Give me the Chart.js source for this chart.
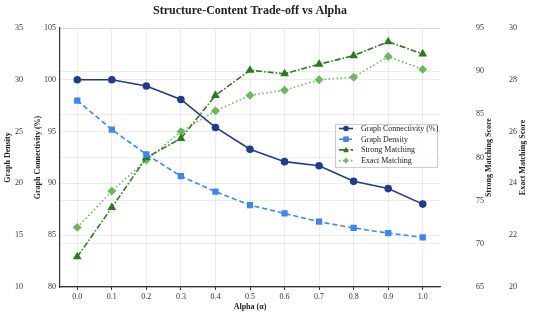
<!DOCTYPE html>
<html>
<head>
<meta charset="utf-8">
<script src="https://cdn.jsdelivr.net/npm/chart.js@4.4.0/dist/chart.umd.min.js"></script>
<style>
  html, body { margin: 0; padding: 0; background: #fff; }
  canvas { display: block; }
</style>
</head>
<body>
<canvas id="chart" width="533" height="317"></canvas>
<script>
const alphaLabels = ['0.0', '0.1', '0.2', '0.3', '0.4', '0.5', '0.6', '0.7', '0.8', '0.9', '1.0'];
const connectivity = [100, 100, 99.4, 98.1, 95.4, 93.3, 92.1, 91.7, 90.2, 89.5, 88.0];
const density = [28.0, 25.2, 22.8, 20.7, 19.2, 17.9, 17.1, 16.3, 15.7, 15.2, 14.8];
const strongMatching = [68.5, 74.2, 80.0, 82.2, 87.2, 90.1, 89.7, 90.8, 91.8, 93.4, 92.0];
const exactMatching = [22.3, 23.7, 24.9, 26.0, 26.8, 27.4, 27.6, 28.0, 28.1, 28.9, 28.4];

const SERIF = '"Liberation Serif", "DejaVu Serif", serif';
const tickFont = { family: SERIF, size: 8 };
const gridColor = 'rgba(0,0,0,0.07)';
const clear = 'rgba(0,0,0,0)';

function drawMarker(ctx, style, x, y, r) {
  ctx.beginPath();
  if (style === 'circle') {
    ctx.arc(x, y, r, 0, Math.PI * 2);
  } else if (style === 'rect') {
    ctx.rect(x - r, y - r, r * 2, r * 2);
  } else if (style === 'triangle') {
    ctx.moveTo(x, y - r * 1.1);
    ctx.lineTo(x + r, y + r * 0.8);
    ctx.lineTo(x - r, y + r * 0.8);
    ctx.closePath();
  } else {
    ctx.moveTo(x, y - r * 1.2);
    ctx.lineTo(x + r * 0.8, y);
    ctx.lineTo(x, y + r * 1.2);
    ctx.lineTo(x - r * 0.8, y);
    ctx.closePath();
  }
  ctx.fill();
}

const extras = {
  id: 'extras',
  afterDraw(chart) {
    const ctx = chart.ctx;
    const a = chart.chartArea;
    const s = chart.scales;
    ctx.save();

    // title
    ctx.fillStyle = '#222';
    ctx.textAlign = 'center';
    ctx.textBaseline = 'middle';
    ctx.font = 'bold 12px ' + SERIF;
    ctx.fillText('Structure-Content Trade-off vs Alpha', (a.left + a.right) / 2, 11);

    // y axis titles, all reading bottom to top
    ctx.font = 'bold 8px ' + SERIF;
    const cy = (a.top + a.bottom) / 2;
    const yTitles = [
      ['Graph Density', s.yDen.left + 8],
      ['Graph Connectivity (%)', s.yConn.left + 10],
      ['Strong Matching Score', s.yStrong.left + 49],
      ['Exact Matching Score', s.yExact.left + 28]
    ];
    yTitles.forEach(([text, x]) => {
      ctx.save();
      ctx.translate(x, cy);
      ctx.rotate(-Math.PI / 2);
      ctx.fillText(text, 0, 0);
      ctx.restore();
    });

    // legend
    const bx = a.right - 105, by = 124, bw = 102, bh = 43;
    ctx.fillStyle = 'rgba(255,255,255,0.85)';
    ctx.fillRect(bx, by, bw, bh);
    ctx.strokeStyle = '#cccccc';
    ctx.lineWidth = 1;
    ctx.strokeRect(bx + 0.5, by + 0.5, bw, bh);
    ctx.textAlign = 'left';
    ctx.font = '8px ' + SERIF;
    chart.data.datasets.forEach((ds, i) => {
      const ry = by + 4.5 + i * 10.7;
      ctx.strokeStyle = ds.borderColor;
      ctx.lineWidth = ds.borderWidth;
      ctx.setLineDash(ds.borderDash || []);
      ctx.beginPath();
      ctx.moveTo(bx + 4, ry);
      ctx.lineTo(bx + 18, ry);
      ctx.stroke();
      ctx.setLineDash([]);
      ctx.fillStyle = ds.borderColor;
      drawMarker(ctx, ds.pointStyle, bx + 11, ry, 2.8);
      ctx.fillStyle = '#222';
      ctx.fillText(ds.label, bx + 26, ry + 0.5);
    });
    ctx.restore();
  }
};

function fixWidth(w) {
  return scale => { scale.width = w; };
}

new Chart(document.getElementById('chart'), {
  type: 'line',
  data: {
    labels: alphaLabels,
    datasets: [
      {
        label: 'Graph Connectivity (%)',
        data: connectivity,
        yAxisID: 'yConn',
        borderColor: '#1f3c8e',
        backgroundColor: '#1f3c8e',
        borderWidth: 1.6,
        pointStyle: 'circle',
        pointRadius: 3
      },
      {
        label: 'Graph Density',
        data: density,
        yAxisID: 'yDen',
        borderColor: '#3e86ef',
        backgroundColor: '#3e86ef',
        borderWidth: 1.6,
        borderDash: [5, 3],
        pointStyle: 'rect',
        pointRadius: 3.3
      },
      {
        label: 'Strong Matching',
        data: strongMatching,
        yAxisID: 'yStrong',
        borderColor: '#2c7a20',
        backgroundColor: '#2c7a20',
        borderWidth: 1.6,
        borderDash: [6, 2, 1.5, 2],
        pointStyle: 'triangle',
        pointRadius: 3.5
      },
      {
        label: 'Exact Matching',
        data: exactMatching,
        yAxisID: 'yExact',
        borderColor: '#6bb95c',
        backgroundColor: '#6bb95c',
        borderWidth: 1.6,
        borderDash: [1.5, 2.5],
        pointStyle: 'rectRot',
        pointRadius: 3.3
      }
    ]
  },
  options: {
    responsive: false,
    animation: false,
    layout: { padding: { top: 28, left: 0, right: 0, bottom: 0 } },
    plugins: {
      legend: { display: false },
      title: { display: false },
      tooltip: { enabled: false }
    },
    scales: {
      x: {
        type: 'category',
        offset: true,
        grid: { offset: false, color: gridColor, tickColor: '#333', tickLength: 3, drawTicks: true },
        border: { color: '#333', width: 1.2 },
        ticks: { font: tickFont, color: '#333', padding: 2, maxRotation: 0 },
        title: { display: true, text: 'Alpha (α)', font: { family: SERIF, size: 8, weight: 'bold' }, color: '#222', padding: { top: 0, bottom: 5 } },
        afterFit: scale => { scale.height = 30; }
      },
      yDen: {
        position: 'left',
        weight: 1,
        min: 10, max: 35,
        ticks: { stepSize: 5, font: tickFont, color: '#333', padding: 5 },
        grid: { display: false, drawTicks: false },
        border: { display: false },
        afterFit: fixWidth(28)
      },
      yConn: {
        position: 'left',
        weight: 0,
        min: 80, max: 105,
        ticks: { stepSize: 5, font: tickFont, color: '#333', padding: 4 },
        grid: { color: gridColor, drawTicks: false },
        border: { color: '#333', width: 1.2 },
        afterFit: fixWidth(32)
      },
      yStrong: {
        position: 'right',
        weight: 0,
        min: 65, max: 95,
        ticks: { stepSize: 5, font: tickFont, color: '#333', padding: 3 },
        grid: { color: gridColor, drawTicks: true, tickLength: 33, tickColor: clear },
        border: { display: false },
        afterFit: fixWidth(55)
      },
      yExact: {
        position: 'right',
        weight: 1,
        min: 20, max: 30,
        ticks: { stepSize: 2, font: tickFont, color: '#333', padding: 3 },
        grid: { display: true, drawOnChartArea: false, drawTicks: true, tickLength: 11, tickColor: clear },
        border: { display: false },
        afterFit: fixWidth(38)
      }
    }
  },
  plugins: [extras]
});
</script>
</body>
</html>
